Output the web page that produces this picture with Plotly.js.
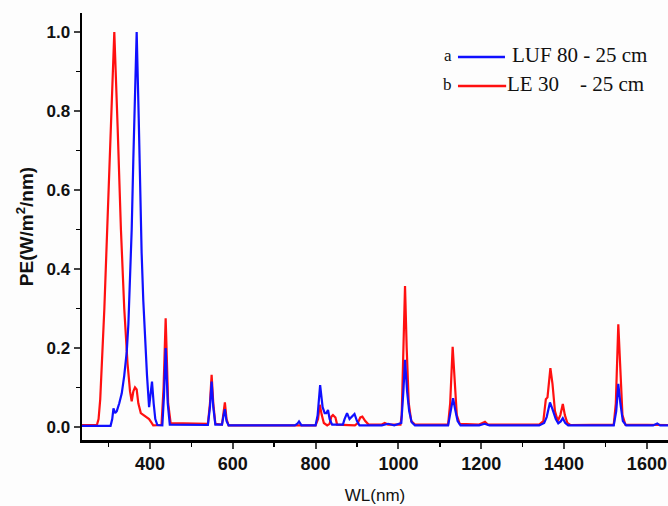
<!DOCTYPE html>
<html>
<head>
<meta charset="utf-8">
<script src="https://cdn.plot.ly/plotly-3.0.1.min.js"></script>
<style>html,body{margin:0;padding:0;background:#fff;}#chart{width:668px;height:506px;}</style>
</head>
<body>
<div id="chart"></div>
<script>
// LUF 80 - 25 cm (blue)
const lufWL = [236, 305, 309, 312, 316, 320, 326, 332, 338, 344, 348, 352, 356, 360, 364, 368, 373, 377, 380, 384, 388, 393, 398, 402, 405, 409, 413, 418, 430, 434, 438, 443, 448, 540, 545, 549, 553, 558, 574, 578, 581, 585, 590, 750, 756, 760, 766, 800, 805, 811, 817, 822, 826, 830, 834, 840, 866, 870, 876, 882, 888, 894, 900, 906, 960, 975, 990, 1007, 1012, 1016, 1021, 1026, 1032, 1040, 1120, 1127, 1132, 1137, 1143, 1150, 1195, 1208, 1220, 1340, 1352, 1358, 1366, 1372, 1380, 1386, 1392, 1397, 1403, 1410, 1520, 1526, 1531, 1536, 1542, 1550, 1615, 1625, 1632, 1651];
const lufPE = [0.003, 0.003, 0.02, 0.047, 0.035, 0.04, 0.06, 0.085, 0.13, 0.19, 0.26, 0.36, 0.5, 0.68, 0.86, 1.0, 0.78, 0.58, 0.44, 0.32, 0.23, 0.13, 0.05, 0.09, 0.115, 0.06, 0.02, 0.005, 0.004, 0.08, 0.2, 0.06, 0.006, 0.005, 0.05, 0.115, 0.05, 0.006, 0.006, 0.03, 0.045, 0.015, 0.004, 0.004, 0.008, 0.014, 0.004, 0.004, 0.03, 0.106, 0.05, 0.035, 0.035, 0.043, 0.02, 0.006, 0.006, 0.02, 0.035, 0.02, 0.028, 0.033, 0.015, 0.004, 0.004, 0.008, 0.004, 0.01, 0.09, 0.17, 0.09, 0.04, 0.012, 0.004, 0.004, 0.04, 0.073, 0.045, 0.015, 0.004, 0.004, 0.008, 0.004, 0.004, 0.01, 0.025, 0.062, 0.045, 0.02, 0.009, 0.014, 0.022, 0.01, 0.004, 0.004, 0.04, 0.109, 0.06, 0.015, 0.004, 0.004, 0.009, 0.004, 0.004];

// LE 30 - 25 cm (red)
const leWL = [236, 272, 276, 280, 290, 298, 306, 314, 322, 330, 338, 346, 352, 356, 360, 364, 368, 372, 378, 390, 398, 403, 408, 428, 433, 438, 444, 450, 540, 545, 549, 553, 558, 574, 578, 581, 585, 590, 760, 800, 806, 810, 815, 820, 828, 834, 838, 842, 848, 852, 895, 902, 908, 913, 920, 928, 960, 967, 975, 1005, 1008, 1012, 1016, 1020, 1025, 1031, 1040, 1120, 1125, 1131, 1136, 1141, 1148, 1195, 1203, 1209, 1216, 1340, 1350, 1356, 1360, 1367, 1372, 1378, 1385, 1391, 1397, 1402, 1408, 1415, 1520, 1525, 1531, 1536, 1541, 1548, 1651];
const lePE = [0.005, 0.005, 0.02, 0.07, 0.3, 0.53, 0.77, 1.0, 0.76, 0.5, 0.3, 0.16, 0.09, 0.065, 0.09, 0.1, 0.095, 0.06, 0.035, 0.025, 0.02, 0.012, 0.004, 0.005, 0.1, 0.275, 0.06, 0.01, 0.008, 0.06, 0.132, 0.06, 0.008, 0.006, 0.04, 0.062, 0.02, 0.004, 0.004, 0.004, 0.02, 0.056, 0.03, 0.01, 0.004, 0.008, 0.026, 0.03, 0.024, 0.006, 0.004, 0.01, 0.024, 0.026, 0.015, 0.006, 0.006, 0.01, 0.006, 0.006, 0.03, 0.2, 0.357, 0.2, 0.06, 0.015, 0.006, 0.006, 0.06, 0.203, 0.1, 0.03, 0.008, 0.006, 0.01, 0.013, 0.006, 0.006, 0.015, 0.07, 0.075, 0.149, 0.11, 0.04, 0.015, 0.03, 0.058, 0.03, 0.01, 0.005, 0.006, 0.06, 0.26, 0.12, 0.03, 0.006, 0.005];

const seriesNames = ['LUF 80 - 25 cm', 'LE 30\u00a0\u00a0\u00a0\u00a0- 25 cm'];
const seriesTags = ['a', 'b'];
const seriesColors = ['#1010ff', '#ff1010'];
const yTicks = [0, 0.2, 0.4, 0.6, 0.8, 1.0];
const yTickText = ['0.0', '0.2', '0.4', '0.6', '0.8', '1.0'];
const xTicks = [400, 600, 800, 1000, 1200, 1400, 1600];

const traces = [
  {x: leWL, y: lePE, name: seriesNames[1], type: 'scatter', mode: 'lines',
   line: {color: seriesColors[1], width: 2.2}},
  {x: lufWL, y: lufPE, name: seriesNames[0], type: 'scatter', mode: 'lines',
   line: {color: seriesColors[0], width: 2.2}}
];

// legend drawn as key lines + labels (paper coordinates)
const keyRows = [0.897, 0.829];
const shapes = keyRows.map((yy, i) => ({
  type: 'line', xref: 'paper', yref: 'paper', x0: 0.6416, x1: 0.7218 + 0.002 * i, y0: yy, y1: yy,
  line: {color: seriesColors[i], width: 2.5}
}));
const annotations = [];
keyRows.forEach((yy, i) => {
  annotations.push({xref: 'paper', yref: 'paper', x: 0.6345, y: yy + 0.004, text: seriesTags[i], showarrow: false,
    xanchor: 'right', yanchor: 'middle', font: {family: 'Liberation Serif', size: 17, color: '#111'}});
  annotations.push({xref: 'paper', yref: 'paper', x: i === 0 ? 0.7305 : 0.7215, y: yy + 0.004, text: seriesNames[i], showarrow: false,
    xanchor: 'left', yanchor: 'middle', font: {family: 'Liberation Serif', size: 21, color: '#111'}});
});

const layout = {
  width: 668, height: 506,
  margin: {l: 82, r: 0, t: 13, b: 66},
  paper_bgcolor: '#fdfdfd', plot_bgcolor: '#fdfdfd',
  showlegend: false,
  xaxis: {
    range: [236, 1651], tickvals: xTicks, ticks: 'outside', ticklen: 6, tickwidth: 2,
    showline: true, linecolor: '#000', linewidth: 2.5, showgrid: false, zeroline: false,
    tickfont: {family: 'Liberation Sans', size: 18, color: '#111', weight: 'bold'},
    minor: {dtick: 100, tick0: 0, ticks: 'outside', ticklen: 4, tickwidth: 1.5, tickcolor: '#000', showgrid: false},
    title: {text: 'WL(nm)', font: {family: 'Liberation Sans', size: 17, color: '#111'}, standoff: 16}
  },
  yaxis: {
    range: [-0.033, 1.048], tickvals: yTicks, ticktext: yTickText, ticks: 'outside', ticklen: 6, tickwidth: 2,
    showline: true, linecolor: '#000', linewidth: 2.5, showgrid: false, zeroline: false,
    tickfont: {family: 'Liberation Sans', size: 17, color: '#111', weight: 'bold'},
    minor: {dtick: 0.1, tick0: 0, ticks: 'outside', ticklen: 4, tickwidth: 1.5, tickcolor: '#000', showgrid: false},
    title: {text: 'PE(W/m<sup>2</sup>/nm)', font: {family: 'Liberation Sans', size: 19, color: '#111', weight: 'bold'}, standoff: 8}
  },
  shapes: shapes,
  annotations: annotations
};

Plotly.newPlot('chart', traces, layout, {displayModeBar: false, staticPlot: true});
</script>
</body>
</html>
